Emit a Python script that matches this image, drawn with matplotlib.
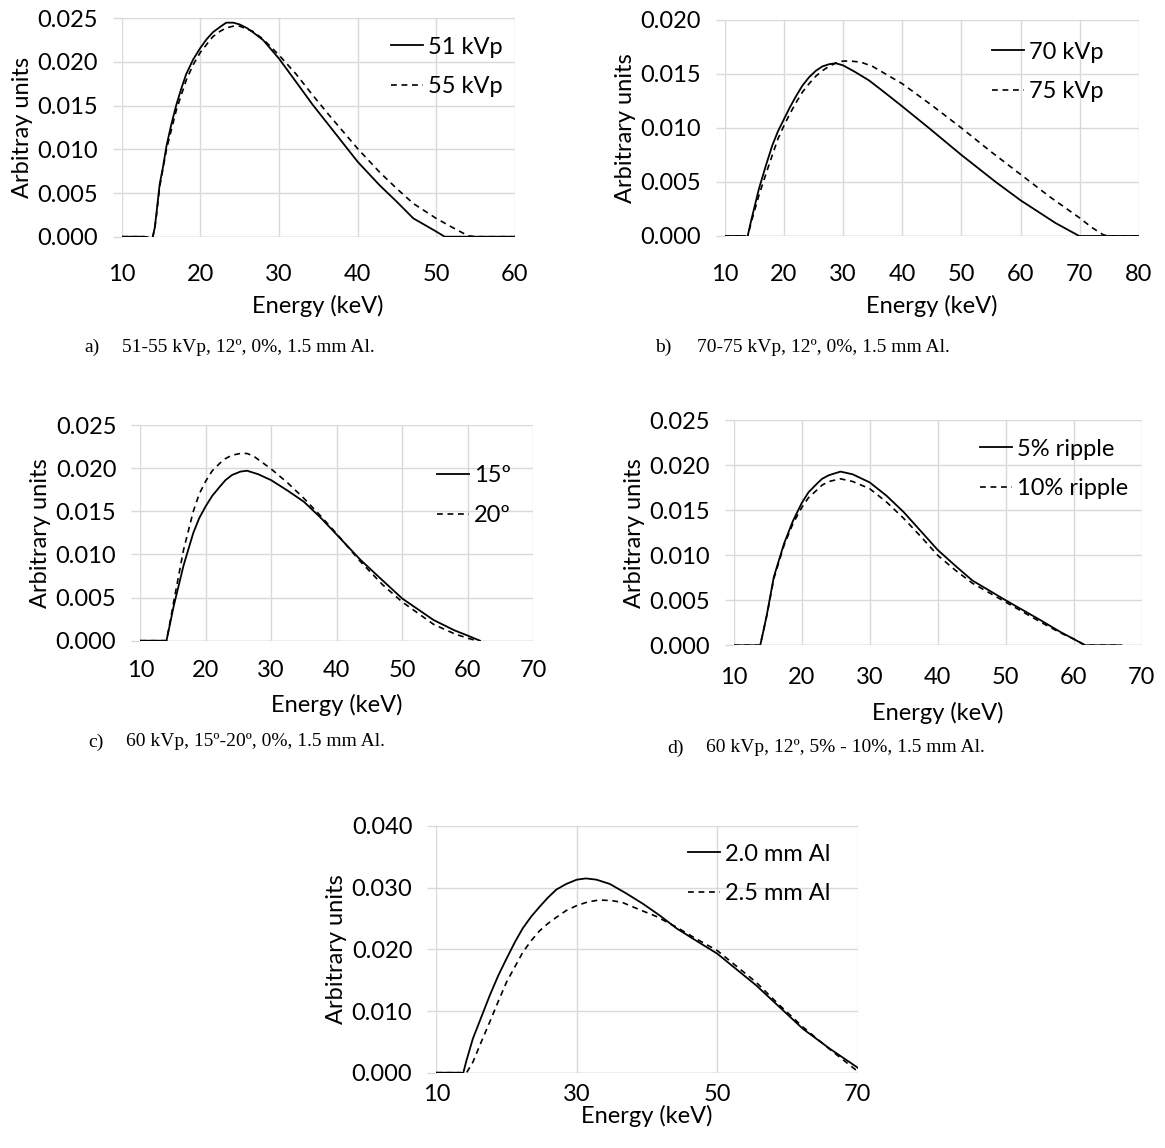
import matplotlib.pyplot as plt
import numpy as np

plt.rcParams['font.family'] = ['Lato', 'DejaVu Sans']

# a) 51 / 55 kVp
e_a51 = [10, 12.9, 13.9, 14.2, 14.4, 14.83, 15.26, 15.7, 16.3, 16.95, 17.6, 18.2, 19.1, 20, 20.8, 21.6,
         22.5, 23.3, 24.2, 25, 25.9, 26.7, 28, 30, 32.2, 34.3, 36.5, 40, 42.8, 45, 47.1, 50, 51.1, 60]
v_a51 = [0.0, 0.0, -0.0002, 0.0010, 0.0025, 0.0060, 0.0080, 0.0104, 0.0128, 0.0151, 0.0170, 0.0186,
         0.0203, 0.0216, 0.0226, 0.0234, 0.0240, 0.0245, 0.0245, 0.0243, 0.0239, 0.0234, 0.0225, 0.0204,
         0.0177, 0.0151, 0.0126, 0.0086, 0.0059, 0.0040, 0.0021, 0.0006, 0.0, 0.0]
e_a55 = [10, 12.9, 13.9, 14.2, 14.4, 14.83, 15.7, 16.95, 18.2, 19.1, 20, 21.6, 22.5, 23.3, 24.2, 25,
         26.7, 28, 30, 32.2, 34.3, 36.5, 40, 42.8, 45, 47.1, 50, 52.6, 54.1, 55, 60]
v_a55 = [0.0, 0.0, -0.0002, 0.0009, 0.0023, 0.0057, 0.0100, 0.0145, 0.0179, 0.0197, 0.0211, 0.0229,
         0.0235, 0.0239, 0.0241, 0.0241, 0.0235, 0.0226, 0.0208, 0.0186, 0.0162, 0.0138, 0.0101, 0.0074,
         0.0055, 0.0038, 0.0021, 0.0008, 0.0001, 0.0, 0.0]

# b) 70 / 75 kVp
e_b70 = [10, 13.5, 13.8, 14.5, 15.8, 17, 18.05, 19, 20, 21, 22, 23.1, 24.25, 25.4, 26.5, 27.6, 28.75,
         30, 32, 34.4, 37, 40, 44.5, 50, 55.8, 60, 65.9, 69.9, 80]
v_b70 = [0.0, 0.0, -0.0002, 0.0015, 0.0044, 0.0066, 0.0084, 0.0097, 0.0108, 0.0119, 0.0129, 0.0139,
         0.0147, 0.0153, 0.0157, 0.0159, 0.0160, 0.0158, 0.0152, 0.0144, 0.0133, 0.0120, 0.0100, 0.0075,
         0.0050, 0.0033, 0.0012, 0.0, 0.0]
e_b75 = [10, 13.5, 13.8, 14.5, 15.8, 17, 18.05, 19, 20, 21, 22, 23.1, 24.25, 25.4, 26.5, 27.6, 28.75,
         30, 31.2, 33, 35, 40, 45, 50, 55, 60, 65, 69.9, 72, 74, 75, 80]
v_b75 = [0.0, 0.0, -0.0002, 0.0013, 0.0038, 0.0058, 0.0075, 0.0090, 0.0102, 0.0113, 0.0123, 0.0133,
         0.0141, 0.0148, 0.0153, 0.0157, 0.0160, 0.0162, 0.0162, 0.0161, 0.0157, 0.0141, 0.0121, 0.0100,
         0.0078, 0.0057, 0.0036, 0.0017, 0.0008, 0.0001, 0.0, 0.0]

# c) 15 / 20 degrees
e_c15 = [10, 14, 14.5, 15.1, 16.6, 18.1, 19, 20, 21, 22.2, 23, 24, 25.3, 26.3, 28, 30, 32.5, 35, 37.5,
         40, 43.6, 47, 50, 54.8, 58, 60, 61.9]
v_c15 = [0.0, 0.0, 0.0018, 0.0040, 0.0087, 0.0125, 0.0142, 0.0156, 0.0168, 0.0179, 0.0186, 0.0192,
         0.0196, 0.0197, 0.0193, 0.0186, 0.0174, 0.0161, 0.0143, 0.0123, 0.0094, 0.0070, 0.0049, 0.0024,
         0.0012, 0.0006, 0.0]
e_c20 = [10, 14, 14.5, 15.1, 16.6, 18.1, 19, 20, 21, 22.2, 23, 24, 25.3, 26.3, 27.3, 30, 32.5, 35, 37.5,
         40, 43.6, 47, 50, 54.8, 58, 60, 61.4]
v_c20 = [0.0, 0.0, 0.0020, 0.0045, 0.0105, 0.0150, 0.0170, 0.0185, 0.0197, 0.0206, 0.0211, 0.0215,
         0.0217, 0.0217, 0.0214, 0.0199, 0.0183, 0.0165, 0.0145, 0.0124, 0.0092, 0.0065, 0.0045, 0.0019,
         0.0008, 0.0003, 0.0]

# d) 5% / 10% ripple
e_d5 = [10, 13.9, 14.4, 14.9, 15.9, 17.4, 18.7, 20, 21, 22.3, 23, 24, 25.7, 27.5, 30, 32.5, 35, 37.5,
        40, 42.5, 45.1, 50, 55.1, 58, 60, 61.7, 67]
v_d5 = [0.0, 0.0, 0.0017, 0.0035, 0.0076, 0.0113, 0.0138, 0.0158, 0.0170, 0.0180, 0.0185, 0.0189,
        0.0193, 0.0190, 0.0181, 0.0166, 0.0148, 0.0127, 0.0106, 0.0089, 0.0072, 0.0050, 0.0028, 0.0015,
        0.0007, 0.0, 0.0]
e_d10 = [10, 13.9, 14.4, 14.9, 15.9, 17.4, 18.7, 20, 21, 22.3, 23, 24, 25.7, 27.5, 30, 32.5, 35, 37.5,
         40, 42.5, 45.1, 50, 55.1, 58, 60, 61.7, 67]
v_d10 = [0.0, 0.0, 0.0017, 0.0034, 0.0074, 0.0111, 0.0135, 0.0153, 0.0164, 0.0173, 0.0178, 0.0182,
         0.0185, 0.0182, 0.0174, 0.0159, 0.0141, 0.0121, 0.0100, 0.0084, 0.0069, 0.0048, 0.0026, 0.0014,
         0.0007, 0.0, 0.0]

# e) 2.0 / 2.5 mm Al
e_e20 = [10, 13.5, 13.8, 14.3, 15.2, 16.4, 17.6, 18.8, 20, 21.2, 22.3, 23.5, 24.7, 25.9, 27.1, 28.5,
         30, 31.3, 32.8, 34.7, 37, 39.4, 41.8, 44.2, 47, 50, 52.8, 55.5, 58.8, 62.2, 66, 70]
v_e20 = [0.0, 0.0, -0.0002, 0.0020, 0.0055, 0.0090, 0.0125, 0.0157, 0.0185, 0.0212, 0.0234, 0.0253,
         0.0269, 0.0284, 0.0297, 0.0306, 0.0313, 0.0315, 0.0313, 0.0306, 0.0291, 0.0274, 0.0255, 0.0234,
         0.0214, 0.0193, 0.0167, 0.0142, 0.0107, 0.0071, 0.0039, 0.0008]
e_e25 = [10, 13.5, 14.2, 15.2, 16.4, 17.6, 18.8, 20, 21.2, 22.3, 23.5, 24.7, 25.9, 27.1, 28.5, 30,
         31.6, 33.2, 35, 36.5, 39, 41.2, 44.2, 47, 50, 52.8, 55.5, 58.8, 62.2, 66, 70]
v_e25 = [0.0, 0.0, -0.0002, 0.0017, 0.0050, 0.0082, 0.0115, 0.0147, 0.0172, 0.0195, 0.0214, 0.0230,
         0.0242, 0.0252, 0.0263, 0.0271, 0.0277, 0.0280, 0.0279, 0.0276, 0.0264, 0.0254, 0.0236, 0.0217,
         0.0198, 0.0172, 0.0147, 0.0110, 0.0074, 0.0038, 0.0002]

W, H = 1165, 1148

panels = [
    # axes box px (left, top, right, bottom), x ticks, y ticks, series, labels, ylabel,
    # legend (x, row1 y, row2 y), x tick pad, xlabel pad
    ((121.7, 18.3, 514.7, 236.7), [10, 20, 30, 40, 50, 60], np.arange(0, 0.0251, 0.005),
     (e_a51, v_a51, e_a55, v_a55), ('51 kVp', '55 kVp'), 'Arbitray units', (391, 47, 87), 20, 6.5),
    ((724.7, 20, 1139, 236), [10, 20, 30, 40, 50, 60, 70, 80], np.arange(0, 0.0201, 0.005),
     (e_b70, v_b70, e_b75, v_b75), ('70 kVp', '75 kVp'), 'Arbitrary units', (992, 52, 92), 20.5, 6.5),
    ((140.3, 425, 533, 640.7), [10, 20, 30, 40, 50, 60, 70], np.arange(0, 0.0251, 0.005),
     (e_c15, v_c15, e_c20, v_c20), ('15º', '20º'), 'Arbitrary units', (437, 475, 516), 14, 9.5),
    ((733.7, 420.3, 1141.7, 645.3), [10, 20, 30, 40, 50, 60, 70], np.arange(0, 0.0251, 0.005),
     (e_d5, v_d5, e_d10, v_d10), ('5% ripple', '10% ripple'), 'Arbitrary units', (980, 449, 489), 15.5, 10),
    ((436.3, 826, 857.8, 1072.7), [10, 30, 50, 70], np.arange(0, 0.0401, 0.010),
     (e_e20, v_e20, e_e25, v_e25), ('2.0 mm Al', '2.5 mm Al'), 'Arbitrary units', (688, 855, 893), 8, 0),
]

fig = plt.figure(figsize=(W / 100, H / 100), dpi=100)

for box, xt, yt, s, labels, ylab, leg, xpad, lpad in panels:
    l, t, r, b = box
    ax = fig.add_axes([l / W, 1 - b / H, (r - l) / W, (b - t) / H])
    ax.plot(s[0], s[1], color='black', lw=1.3, label=labels[0])
    ax.plot(s[2], s[3], color='black', lw=1.2, ls=(0, (3.5, 2.8)), label=labels[1])
    ax.set_xlim(xt[0], xt[-1])
    ax.set_ylim(yt[0], yt[-1])
    ax.set_xticks(xt)
    ax.set_yticks(yt)
    ax.yaxis.set_major_formatter(plt.FormatStrFormatter('%.3f'))
    ax.grid(True, color='#d9d9d9', lw=1.0)
    ax.set_axisbelow(True)
    for sp in ax.spines.values():
        sp.set_visible(False)
    ax.axhline(0, color='#bfbfbf', lw=1.0, zorder=0.5)
    ax.tick_params(axis='y', length=6.3, width=1.0, color='#d9d9d9', labelsize=17, pad=11)
    ax.tick_params(axis='x', length=0, labelsize=17, pad=xpad)
    ax.set_ylabel(ylab, fontsize=17, labelpad=3)
    ax.set_xlabel('Energy (keV)', fontsize=17, labelpad=lpad)
    lx, ly1, ly2 = leg
    ax.legend(loc='center left', frameon=False, fontsize=17, handlelength=1.36,
              handletextpad=0.2, borderpad=0, borderaxespad=0, labelspacing=0.8,
              bbox_to_anchor=(lx / W, 1 - (ly1 + ly2) / 2 / H), bbox_transform=fig.transFigure)

captions = [
    (84, 347, 122, 'a)', '51-55 kVp, 12º, 0%, 1.5 mm Al.'),
    (655, 347, 697, 'b)', '70-75 kVp, 12º, 0%, 1.5 mm Al.'),
    (88, 742, 126, 'c)', '60 kVp, 15º-20º, 0%, 1.5 mm Al.'),
    (667, 748, 706, 'd)', '60 kVp, 12º, 5% - 10%, 1.5 mm Al.'),
]
for x0, y0, x1, lab, txt in captions:
    fig.text(x0 / W, 1 - y0 / H, lab, fontsize=14, family='Liberation Serif', va='center')
    fig.text(x1 / W, 1 - y0 / H, txt, fontsize=14, family='Liberation Serif', va='center')

fig.savefig('out.png', dpi=100)
